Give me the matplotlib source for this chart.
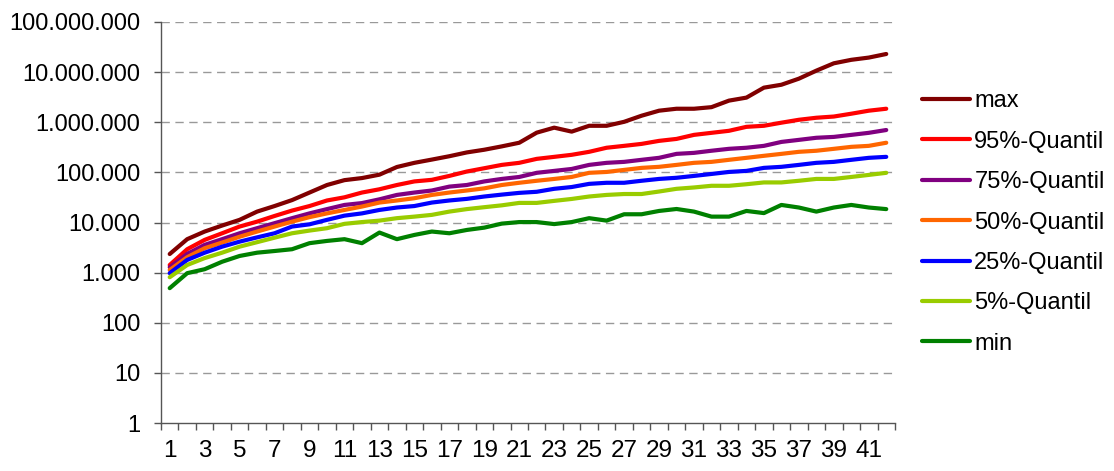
import matplotlib
matplotlib.use("Agg")
import matplotlib.pyplot as plt
from matplotlib.ticker import FixedLocator, FuncFormatter

plt.rcParams['font.family'] = ['Liberation Sans', 'DejaVu Sans']

categories = list(range(1, 43))

max_vals = [2350, 4650, 6600, 8700, 11300, 16500, 21300, 28000, 39600, 56000,
            70000, 77000, 90000, 128000, 155000, 180000, 210000, 250000, 283000, 330000,
            390000, 620000, 780000, 650000, 850000, 850000, 1020000, 1350000, 1700000, 1860000,
            1860000, 2000000, 2700000, 3100000, 4900000, 5600000, 7400000, 10700000, 15000000, 17600000,
            19500000, 23000000]
q95_vals = [1420, 2930, 4500, 6100, 8300, 10400, 13500, 17300, 21300, 27500,
            31800, 39600, 46000, 56000, 66000, 71000, 85000, 104000, 121000, 141000,
            155000, 186000, 204000, 224000, 257000, 310000, 338000, 370000, 425000, 465000,
            560000, 615000, 675000, 810000, 850000, 980000, 1120000, 1230000, 1300000, 1480000,
            1700000, 1860000]
q75_vals = [1280, 2360, 3580, 4650, 6100, 7700, 9700, 12200, 15200, 18500,
            22400, 24400, 29000, 35500, 39600, 43500, 52000, 56000, 66000, 74000,
            81000, 98000, 107000, 117000, 141000, 155000, 162000, 178000, 195000, 234000,
            245000, 270000, 295000, 310000, 338000, 405000, 445000, 490000, 510000, 560000,
            615000, 700000]
q50_vals = [1130, 2030, 3070, 3980, 5200, 6600, 8300, 10400, 12800, 15200,
            17800, 20800, 25000, 27500, 30500, 35500, 39600, 43500, 48000, 56000,
            62000, 68000, 74000, 81000, 98000, 102000, 112000, 123000, 129000, 141000,
            155000, 162000, 178000, 195000, 214000, 234000, 257000, 270000, 295000, 323000,
            338000, 390000]
q25_vals = [975, 1790, 2500, 3300, 4150, 5050, 6100, 8300, 9200, 11300,
            13700, 15200, 17800, 19900, 21300, 25000, 27500, 29600, 33000, 36000,
            39000, 41000, 47000, 51000, 59000, 62000, 62000, 68000, 74000, 78000,
            85000, 93000, 102000, 107000, 123000, 129000, 141000, 155000, 162000, 178000,
            195000, 204000]
q05_vals = [810, 1420, 1950, 2500, 3300, 4050, 4980, 6100, 6900, 7700,
            9400, 10200, 10900, 12200, 13100, 14200, 16500, 18500, 20200, 22000,
            24600, 24600, 27000, 29500, 33000, 35500, 37000, 37000, 41500, 47000,
            50000, 54000, 54000, 58000, 63000, 63000, 68000, 74000, 74000, 81000,
            89000, 98000]
min_vals = [490, 975, 1170, 1650, 2150, 2500, 2700, 2930, 3870, 4290,
            4650, 3870, 6300, 4650, 5650, 6600, 6100, 7100, 7900, 9500,
            10200, 10200, 9300, 10200, 12200, 10900, 14600, 14600, 17000, 18600,
            16500, 13100, 13100, 17000, 15400, 22400, 19900, 16500, 19900, 22400,
            19900, 18500]

series_labels = ["max", "95%-Quantil", "75%-Quantil", "50%-Quantil",
                 "25%-Quantil", "5%-Quantil", "min"]
series_colors = ["#800000", "#FF0000", "#800080", "#FF6600",
                 "#0000FF", "#99CC00", "#008000"]
series_data = [max_vals, q95_vals, q75_vals, q50_vals, q25_vals, q05_vals, min_vals]

y_ticks = [1, 10, 100, 1000, 10000, 100000, 1000000, 10000000, 100000000]

fig = plt.figure(figsize=(11.14, 4.71), dpi=100)
ax = fig.add_axes([0.1445, 0.1019, 0.8034 - 0.1445, 0.9533 - 0.1019])

for vals, lab, col in zip(series_data, series_labels, series_colors):
    ax.plot(categories, vals, color=col, lw=3, label=lab, solid_capstyle='round',
            solid_joinstyle='round')

ax.set_yscale('log')
ax.set_ylim(1, 1e8)
ax.set_xlim(0.5, 42.5)

ax.yaxis.set_major_locator(FixedLocator(y_ticks))
ax.yaxis.set_minor_locator(FixedLocator([]))
ax.yaxis.set_major_formatter(FuncFormatter(lambda v, p: f"{int(round(v)):,}".replace(",", ".")))
for t in y_ticks[1:]:
    ax.axhline(t, color="#999999", lw=1, ls=(0, (6, 4)), zorder=0)

ax.xaxis.set_major_locator(FixedLocator(categories[::2]))
ax.xaxis.set_minor_locator(FixedLocator([c + 0.5 for c in [0] + categories]))
ax.tick_params(axis='x', which='major', length=0, pad=12, labelsize=17.5)
ax.tick_params(axis='x', which='minor', length=5, width=1, color="#555555", direction='out')
ax.tick_params(axis='y', which='major', length=5, width=1, color="#555555", pad=10, labelsize=17)

for s in ['top', 'right']:
    ax.spines[s].set_visible(False)
for s in ['left', 'bottom']:
    ax.spines[s].set_color("#555555")
    ax.spines[s].set_linewidth(1)

leg = ax.legend(loc='center left', bbox_to_anchor=(0.828, 0.5276), bbox_transform=fig.transFigure,
                frameon=False, fontsize=17, handlelength=2.0, handletextpad=0.2,
                labelspacing=0.78, borderpad=0, borderaxespad=0)
for h in leg.get_lines():
    h.set_linewidth(3)

fig.savefig("out.png", dpi=100)
